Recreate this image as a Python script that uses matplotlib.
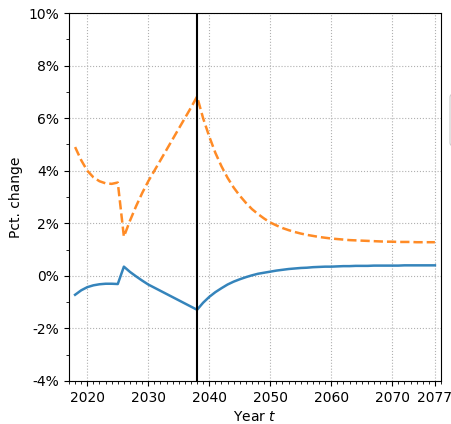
import matplotlib
matplotlib.use("Agg")
import matplotlib.pyplot as plt
import numpy as np
from matplotlib.ticker import MultipleLocator, FuncFormatter
from matplotlib.patches import FancyBboxPatch

# años del horizonte
years = np.arange(2018, 2078)

# serie naranja (discontinua), % de cambio
pct_orange = [4.90, 4.40, 4.00, 3.75, 3.60, 3.52, 3.50, 3.55,
              1.49, 2.10, 2.65, 3.15, 3.60, 4.00, 4.40, 4.80, 5.20, 5.60, 6.00, 6.40, 6.82,
              5.99, 5.30, 4.68, 4.17, 3.73, 3.36, 3.05, 2.78, 2.54, 2.35, 2.18, 2.03,
              1.92, 1.82, 1.74, 1.67, 1.61, 1.56, 1.52, 1.48, 1.45, 1.42, 1.40, 1.38,
              1.36, 1.35, 1.34, 1.33, 1.32, 1.31, 1.30, 1.30, 1.29, 1.29, 1.29, 1.28,
              1.28, 1.28, 1.28]

# serie azul (continua)
pct_blue = [-0.72, -0.55, -0.43, -0.36, -0.32, -0.30, -0.30, -0.31,
            0.35, 0.15, -0.02, -0.18, -0.33, -0.45, -0.57, -0.69, -0.81, -0.93, -1.05, -1.17, -1.29,
            -1.02, -0.80, -0.62, -0.47, -0.33, -0.22, -0.13, -0.05, 0.02, 0.08, 0.12, 0.16,
            0.20, 0.23, 0.26, 0.28, 0.30, 0.31, 0.33, 0.34, 0.35, 0.35, 0.36, 0.37,
            0.37, 0.38, 0.38, 0.38, 0.39, 0.39, 0.39, 0.39, 0.39, 0.40, 0.40, 0.40,
            0.40, 0.40, 0.40]

x_ticks = [2020, 2030, 2040, 2050, 2060, 2070, 2077]
year_shock = 2038

fig = plt.figure(figsize=(4.52, 4.24), dpi=100)
ax = fig.add_axes([69/452, 1 - 381/424, (441-69)/452, (381-13)/424])

ax.plot(years, pct_blue, color="#1f77b4", lw=1.8, alpha=0.9)
ax.plot(years, pct_orange, color="#ff7f0e", lw=1.8, ls="--", alpha=0.9)
ax.axvline(year_shock, color="black", lw=1.5)

ax.set_xlim(2017, 2078)
ax.set_ylim(-4, 10)
ax.set_xticks(x_ticks)
ax.xaxis.set_minor_locator(MultipleLocator(1))
ax.yaxis.set_major_locator(MultipleLocator(2))
ax.yaxis.set_minor_locator(MultipleLocator(1))
ax.yaxis.set_major_formatter(FuncFormatter(lambda v, p: "%d%%" % v))
ax.grid(True, which="major", ls=":", color="#b0b0b0", lw=0.8)
ax.set_xlabel("Year $t$")
ax.set_ylabel("Pct. change")

# marco de la leyenda, recortado por el borde derecho
frame = FancyBboxPatch((450/452, 1 - 146/424), 0.2, 52/424,
                       boxstyle="round,pad=0,rounding_size=0.008",
                       transform=fig.transFigure, facecolor="white",
                       edgecolor="#cccccc", lw=0.8)
fig.patches.append(frame)

fig.savefig("out.png", dpi=100)
